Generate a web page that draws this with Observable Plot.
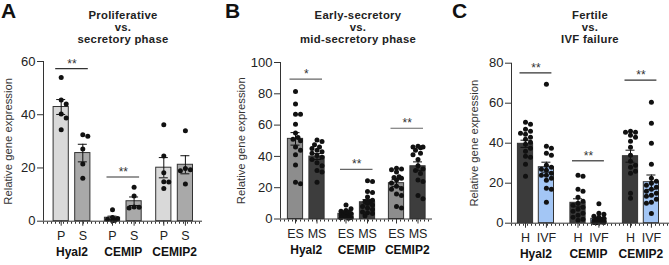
<!DOCTYPE html>
<html><head><meta charset="utf-8">
<script src="https://cdn.jsdelivr.net/npm/d3@7"></script>
<script src="https://cdn.jsdelivr.net/npm/@observablehq/plot@0.6"></script>
<style>
body{margin:0;background:#fff;}
#wrap{position:relative;width:669px;height:265px;overflow:hidden;font-family:"Liberation Sans",Arial,sans-serif;color:#222;}
.panel{position:absolute;top:0;width:223px;height:265px;}
.panel svg{position:absolute;left:0;top:0;}
.letter{position:absolute;top:0px;font-weight:bold;font-size:21px;line-height:21px;color:#111;}
.title{position:absolute;top:9px;font-weight:bold;font-size:11.3px;line-height:12px;text-align:center;letter-spacing:0.3px;white-space:nowrap;transform:translateX(-50%);color:#222;}
</style></head>
<body><div id="wrap"></div>
<script>
const genes = ["Hyal2", "CEMIP", "CEMIP2"];

// ---------- Panel A: proliferative vs secretory ----------
const aConditions = ["P", "S"];
const aMeans = [[42.9, 25.6], [1.3, 7.5], [20.1, 21.2]];
const aSems = [[2.8, 3.3], [0.6, 1.6], [3.8, 3.4]];
const aPoints = [
  [[54.0, 45.5, 44.0, 40.3, 38.8, 34.4], [32.5, 31.9, 27.1, 21.5, 16.1]],
  [[4.3, 1.4, 1.0, 0.7, 0.4, 0.2], [12.8, 9.5, 5.3, 5.2, 5.0]],
  [[36.2, 24.5, 18.2, 14.8, 14.7, 12.3], [34.0, 19.8, 19.3, 19.0, 14.0]]
];
const aSigLabels = ["**", "**", ""];
const aSigY = [57.3, 16.6, null];
const aColors = ["#d9d9d9", "#a9a9a9"];
const aTicks = [0, 20, 40, 60];

// ---------- Panel B: early- vs mid-secretory ----------
const bConditions = ["ES", "MS"];
const bMeans = [[51.2, 39.9], [3.3, 10.7], [22.9, 33.7]];
const bSems = [[4.0, 1.9], [0.7, 1.7], [2.2, 2.8]];
const bPoints = [
  [[81.5, 73.5, 67, 67, 60.5, 55, 52, 51, 50, 46, 44, 41, 34.5, 23.5, 22.5],
   [50.5, 49.5, 47.5, 46, 45, 44, 43, 42, 40.5, 39.5, 38, 36, 34, 31, 30, 23.5]],
  [[9, 6.5, 5.5, 5, 4.5, 4, 3.5, 3, 2.5, 2, 2, 1.5, 1, 0.8, 0.5],
   [24.5, 24, 17.5, 17, 14, 12, 11, 11, 10, 9, 8, 7, 6, 4, 4.5, 3.5, 2]],
  [[32.5, 32, 31.5, 30, 27, 26.5, 26, 25, 23, 21, 19.5, 19, 15, 16, 8, 7],
   [46.5, 46, 46, 45.5, 44, 42, 41, 38, 34, 32, 31, 29, 25, 24, 15, 13]]
];
const bSigLabels = ["*", "**", "**"];
const bSigY = [89.4, 31.7, 58];
const bColors = ["#8d8d8d", "#3d3d3d"];
const bTicks = [0, 20, 40, 60, 80, 100];

// ---------- Panel C: fertile vs IVF failure ----------
const cConditions = ["H", "IVF"];
const cMeans = [[39.7, 28.0], [10.2, 2.2], [33.5, 20.5]];
const cSems = [[1.8, 2.5], [2.0, 0.6], [3.0, 3.6]];
const cPoints = [
  [[50.5, 49.5, 47, 46, 45, 44.5, 43, 42, 40.5, 39.5, 37.5, 36, 33.5, 33, 29.5, 23.5],
   [69.5, 38.5, 37.5, 35, 34, 29, 28, 26.5, 27, 24, 25, 24, 22.5, 21.5, 17.5, 17, 10.5]],
  [[24, 23.5, 17, 16, 13, 11, 10, 9, 8, 7, 6, 5, 4, 3, 2, 1.5],
   [9.7, 5, 4.5, 3.5, 3, 2.5, 2, 1.8, 1.5, 1.2, 1, 0.8, 0.6, 0.5, 0.4, 0.3, 0.2]],
  [[46, 45.5, 45.5, 44, 43, 41, 38, 34, 31, 29, 28, 26, 25, 15, 12.5],
   [60.5, 50, 40, 29.5, 22.5, 21, 20, 19, 18, 17, 16, 15, 14, 13.5, 12, 10.5, 10, 4.8]]
];
const cSigLabels = ["**", "**", "**"];
const cSigY = [75.2, 31.2, 71.5];
const cColors = ["#3b3b3b", "#a3c6f5"];
const cTicks = [0, 20, 40, 60, 80];

const yLabel = "Relative gene expression";
const FONT = "Liberation Sans, Arial, sans-serif";

// simple beeswarm: horizontal pixel offsets for dots so they don't overlap
function swarm(values, ky, r, maxOff) {
  const order = d3.range(values.length).sort((i, j) => values[j] - values[i]);
  const placed = [], off = new Array(values.length), d = 2 * r;
  const cands = [0];
  for (let k = 1; k * r <= maxOff + 0.01; k++) cands.push(k * r, -k * r);
  for (const i of order) {
    const yp = values[i] * ky;
    let best = 0, bestScore = -Infinity;
    for (const c of cands) {
      let m = Infinity;
      for (const p of placed) m = Math.min(m, Math.hypot(p.x - c, p.y - yp));
      if (m >= d * 0.95) { best = c; break; }
      if (m > bestScore + 0.3) { bestScore = m; best = c; }
    }
    placed.push({x: best, y: yp});
    off[i] = best;
  }
  return off;
}

function makePanel(cfg) {
  const {left, width, axisX, firstPx, unitPx, stepPx, rightPx, yTop, yBottom, yMax,
         conditions, means, sems, points, sigLabels, sigY, colors, ticks, letter, title, titleX, labelDx, sigColor} = cfg;
  const step = stepPx / unitPx;
  const padL = (firstPx - axisX) / unitPx;
  const lastPos = 2 * step + 1;
  const padR = (rightPx - (firstPx + 2 * stepPx + unitPx)) / unitPx;
  const xDomain = [-padL, lastPos + padR];
  const ky = (yBottom - yTop) / yMax;
  const hw = 7.6 / unitPx, cap = 4.5 / unitPx, sigPad = 5.5 / unitPx;

  const rows = [], dots = [], tickPos = [], tickLab = new Map();
  genes.forEach((g, gi) => {
    conditions.forEach((c, ci) => {
      const pos = gi * step + ci;
      rows.push({gene: g, cond: c, pos, mean: means[gi][ci], sem: sems[gi][ci], color: colors[ci]});
      tickPos.push(pos); tickLab.set(pos, c);
      const vals = points[gi][ci];
      const offs = swarm(vals, ky, 2.5, 7);
      vals.forEach((v, k) => dots.push({x: pos + offs[k] / unitPx, v}));
    });
  });
  const sig = genes.map((g, gi) => ({label: sigLabels[gi], y: sigY[gi], x1: gi * step - sigPad, x2: gi * step + 1 + sigPad, xm: gi * step + 0.5}))
                   .filter(d => d.label);

  const plot = Plot.plot({
    width, height: 265,
    marginLeft: axisX - left, marginRight: left + width - rightPx,
    marginTop: yTop, marginBottom: 265 - yBottom,
    style: {fontFamily: FONT, fontSize: "12px", color: "#222", background: "transparent", overflow: "visible"},
    x: {domain: xDomain, axis: null},
    y: {domain: [0, yMax], axis: null},
    color: {type: "identity"},
    marks: [
      Plot.rectY(rows, {x1: d => d.pos - hw, x2: d => d.pos + hw, y1: 0, y2: "mean", fill: "color", stroke: "#333", strokeWidth: 1}),
      Plot.dot(dots, {x: "x", y: "v", r: 2.5, fill: "#111", stroke: null}),
      Plot.ruleX(rows, {x: "pos", y1: d => d.mean - d.sem, y2: d => d.mean + d.sem, stroke: "#111", strokeWidth: 1}),
      Plot.ruleY(rows, {y: d => d.mean + d.sem, x1: d => d.pos - cap, x2: d => d.pos + cap, stroke: "#111", strokeWidth: 1}),
      Plot.ruleY(rows, {y: d => Math.max(0, d.mean - d.sem), x1: d => d.pos - cap, x2: d => d.pos + cap, stroke: "#111", strokeWidth: 1}),
      Plot.ruleY(sig, {y: "y", x1: "x1", x2: "x2", stroke: sigColor, strokeWidth: 1.2}),
      Plot.text(sig, {x: "xm", y: "y", text: "label", dy: -1, lineAnchor: "bottom", fontSize: 12, fill: "#333"}),
      Plot.ruleX([xDomain[0]], {y1: 0, y2: yMax, stroke: "#333", strokeWidth: 1}),
      Plot.ruleY([0], {stroke: "#333", strokeWidth: 1}),
      Plot.ruleY([0], {stroke: "#333", strokeWidth: 2, dy: 1.5, strokeDasharray: "1,3"}),
      Plot.axisY({ticks, tickSize: 6, tickPadding: 2, fontSize: 13, label: null, stroke: "#333"}),
      Plot.axisX({ticks: tickPos, tickFormat: d => tickLab.get(d), tickSize: 5, tickPadding: 5, fontSize: 12.5, label: null, stroke: "#333"}),
      Plot.text(genes, {x: (d, i) => i * step + 0.5, frameAnchor: "bottom", lineAnchor: "middle", dy: 31, text: d => d, fontWeight: "bold", fontSize: 12, fill: "#111"}),
      Plot.text([yLabel], {frameAnchor: "left", textAnchor: "middle", lineAnchor: "middle", dx: labelDx, rotate: -90, fontSize: 11.3, fill: "#333"})
    ]
  });

  const div = document.createElement("div");
  div.className = "panel";
  div.style.left = left + "px";
  div.style.width = width + "px";
  div.appendChild(plot);
  const L = document.createElement("div");
  L.className = "letter"; L.textContent = letter; L.style.left = cfg.letterX + "px";
  div.appendChild(L);
  const T = document.createElement("div");
  T.className = "title"; T.innerHTML = title.join("<br>"); T.style.left = (titleX - left) + "px";
  div.appendChild(T);
  document.getElementById("wrap").appendChild(div);
}

makePanel({left: 0, width: 223, axisX: 43, firstPx: 60.7, unitPx: 21.6, stepPx: 51.3, rightPx: 202,
  yTop: 61, yBottom: 220.7, yMax: 60, conditions: aConditions, means: aMeans, sems: aSems, points: aPoints,
  sigLabels: aSigLabels, sigY: aSigY, colors: aColors, ticks: aTicks, letter: "A", letterX: 1,
  title: ["Proliferative", "vs.", "secretory phase"], titleX: 123, labelDx: -35, sigColor: "#333"});
makePanel({left: 223, width: 223, axisX: 280, firstPx: 295, unitPx: 21.5, stepPx: 50.5, rightPx: 432,
  yTop: 62, yBottom: 218.5, yMax: 100, conditions: bConditions, means: bMeans, sems: bSems, points: bPoints,
  sigLabels: bSigLabels, sigY: bSigY, colors: bColors, ticks: bTicks, letter: "B", letterX: 2,
  title: ["Early-secretory", "vs.", "mid-secretory phase"], titleX: 358, labelDx: -39, sigColor: "#666"});
makePanel({left: 446, width: 223, axisX: 511, firstPx: 525, unitPx: 20.9, stepPx: 52.5, rightPx: 669,
  yTop: 62.7, yBottom: 222.7, yMax: 80, conditions: cConditions, means: cMeans, sems: cSems, points: cPoints,
  sigLabels: cSigLabels, sigY: cSigY, colors: cColors, ticks: cTicks, letter: "C", letterX: 6,
  title: ["Fertile", "vs.", "IVF failure"], titleX: 590, labelDx: -37, sigColor: "#333"});
</script>
</body></html>
